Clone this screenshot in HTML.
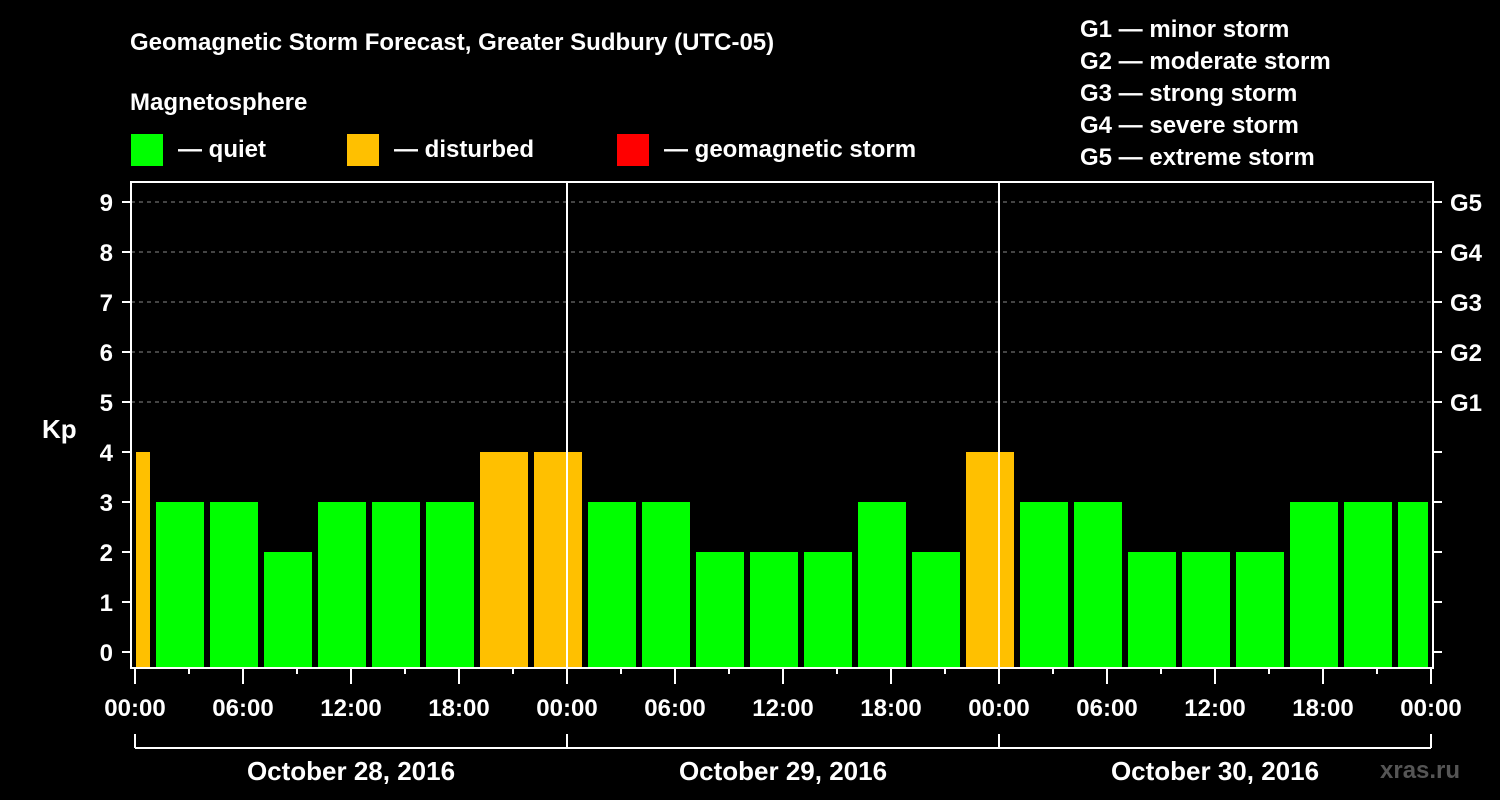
<!DOCTYPE html>
<html><head><meta charset="utf-8"><style>
html,body{margin:0;padding:0;background:#000;}
svg{display:block;font-family:"Liberation Sans",Arial,sans-serif;font-weight:bold;}
</style></head><body>
<svg id="chart" width="1500" height="800" viewBox="0 0 1500 800">
<rect x="0" y="0" width="1500" height="800" fill="#000"/>
<text x="130" y="50" fill="#fff" font-size="24">Geomagnetic Storm Forecast, Greater Sudbury (UTC-05)</text>
<text x="130" y="110" fill="#fff" font-size="24">Magnetosphere</text>
<g><rect x="131" y="134" width="32" height="32" fill="#00ff00"/><text x="178" y="157" fill="#fff" font-size="24">— quiet</text></g>
<g><rect x="347" y="134" width="32" height="32" fill="#ffc000"/><text x="394" y="157" fill="#fff" font-size="24">— disturbed</text></g>
<g><rect x="617" y="134" width="32" height="32" fill="#ff0000"/><text x="664" y="157" fill="#fff" font-size="24">— geomagnetic storm</text></g>
<g fill="#fff" font-size="24">
<text x="1080" y="37">G1 — minor storm</text>
<text x="1080" y="69">G2 — moderate storm</text>
<text x="1080" y="101">G3 — strong storm</text>
<text x="1080" y="133">G4 — severe storm</text>
<text x="1080" y="165">G5 — extreme storm</text>
</g>
<text x="42" y="438" fill="#fff" font-size="26">Kp</text>
<text x="1380" y="778" fill="#555" font-size="24">xras.ru</text>
<g id="plot"></g>
</svg>
<script>
const kpValues = [4,3,3,2,3,3,3,4,4,3,3,2,2,2,3,2,4,3,3,2,2,2,3,3,3];
const barStartHours = [-2,1,4,7,10,13,16,19,22,25,28,31,34,37,40,43,46,49,52,55,58,61,64,67,70];
const yTicks = [0,1,2,3,4,5,6,7,8,9];
const gLabels = ["G1","G2","G3","G4","G5"];
const gLevels = [5,6,7,8,9];
const xTickLabels = ["00:00","06:00","12:00","18:00","00:00","06:00","12:00","18:00","00:00","06:00","12:00","18:00","00:00"];
const dayLabels = ["October 28, 2016","October 29, 2016","October 30, 2016"];

const NS="http://www.w3.org/2000/svg";
const g=document.getElementById('plot');
const L=131,R=1433,T=182,B=668;
const x=h=>135+h*18;
const y=v=>652-v*50;
function mk(tag,attrs,parent){const e=document.createElementNS(NS,tag);for(const k in attrs)e.setAttribute(k,attrs[k]);(parent||g).appendChild(e);return e;}
function txt(s,attrs){const e=mk('text',attrs);e.textContent=s;return e;}

// grid
gLevels.forEach((v,i)=>{
  const ln=mk('line',{x1:L,x2:R,y1:y(v),y2:y(v),stroke:'#888','stroke-dasharray':'4,4','stroke-width':1});
  
  
  const t=txt(gLabels[i],{x:1450,y:y(v)+9,fill:'#fff','font-size':24});
  
  
});
// bars
kpValues.forEach((v,i)=>{
  const h0=barStartHours[i];
  let x0=x(h0)+3, x1=x(h0+3)-3;
  x0=Math.max(x0,x(0)+1); x1=Math.min(x1,x(72)-3);
  const col=v>=5?'#ff0000':(v>=4?'#ffc000':'#00ff00');
  const r=mk('rect',{x:x0,y:y(v),width:x1-x0,height:B-y(v),fill:col});
  
  
});
// day separators
[24,48].forEach(h=>{
  const ln=mk('line',{x1:x(h),x2:x(h),y1:T,y2:B,stroke:'#fff','stroke-width':2});
  
  
});
// frame
const fr=mk('rect',{x:L,y:T,width:R-L,height:B-T,fill:'none',stroke:'#fff','stroke-width':2});


// y ticks
yTicks.forEach(v=>{
  mk('line',{x1:L-9,x2:L,y1:y(v),y2:y(v),stroke:'#fff','stroke-width':2});
  mk('line',{x1:R,x2:R+9,y1:y(v),y2:y(v),stroke:'#fff','stroke-width':2});
  const t=txt(String(v),{x:113,y:y(v)+9,fill:'#fff','font-size':24,'text-anchor':'end'});
  
  
});
// x ticks
for(let h=0;h<=72;h+=3){
  const len=h%6===0?16:6;
  mk('line',{x1:x(h),x2:x(h),y1:B,y2:B+len,stroke:'#fff','stroke-width':2});
}
xTickLabels.forEach((s,i)=>{
  const t=txt(s,{x:x(i*6),y:716,fill:'#fff','font-size':24,'text-anchor':'middle'});
  
  
});
// day brackets
mk('line',{x1:x(0),x2:x(72),y1:748,y2:748,stroke:'#fff','stroke-width':2});
[0,24,48,72].forEach(h=>mk('line',{x1:x(h),x2:x(h),y1:734,y2:748,stroke:'#fff','stroke-width':2}));
dayLabels.forEach((s,i)=>{
  const t=txt(s,{x:x(i*24+12),y:780,fill:'#fff','font-size':26,'text-anchor':'middle'});
  
  
});
</script>
</body></html>
